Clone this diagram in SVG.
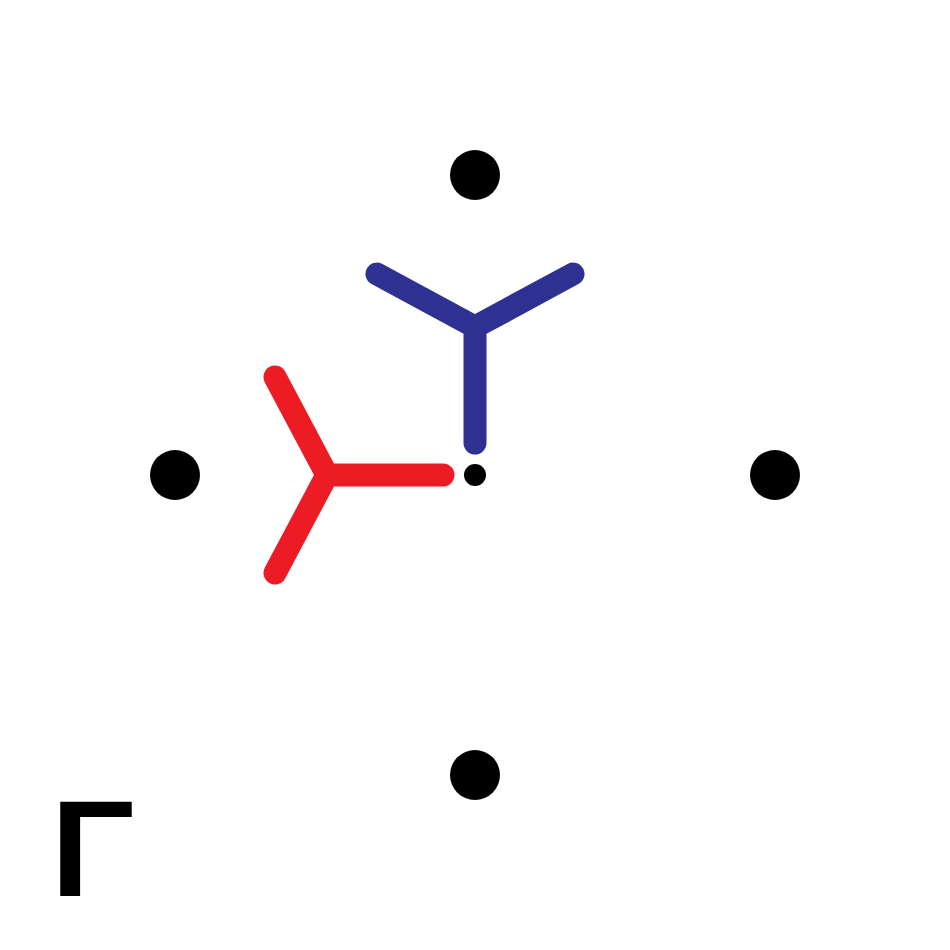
<svg xmlns="http://www.w3.org/2000/svg" width="950" height="950" viewBox="0 0 950 950">
<style>
.dot{fill:#000}
.blue{stroke:#2E3192;stroke-width:23;stroke-linecap:round;stroke-linejoin:round;fill:none}
.red{stroke:#ED1C24;stroke-width:23;stroke-linecap:round;stroke-linejoin:round;fill:none}
.lbl{font-family:"Liberation Sans",Arial,sans-serif;font-weight:bold;font-size:138px;fill:#000}
</style>
<rect width="950" height="950" fill="#fff"/>
<g id="dot-top"><circle class="dot" cx="475" cy="175" r="25"/></g>
<g id="dot-left"><circle class="dot" cx="175" cy="475" r="25"/></g>
<g id="dot-right"><circle class="dot" cx="775" cy="475" r="25"/></g>
<g id="dot-bottom"><circle class="dot" cx="475" cy="775" r="25"/></g>
<g id="dot-center"><circle class="dot" cx="475" cy="475" r="11"/></g>
<g id="connectors">
<g id="blue-y"><path class="blue" d="M475,327 L475,443 M475,327 L377,274 M475,327 L573,274"/></g>
<g id="red-y"><path class="red" d="M327,475 L443,475 M327,475 L275,377 M327,475 L275,573"/></g>
</g>
<g id="label"><text class="lbl" x="51" y="896">Γ</text></g>
</svg>
